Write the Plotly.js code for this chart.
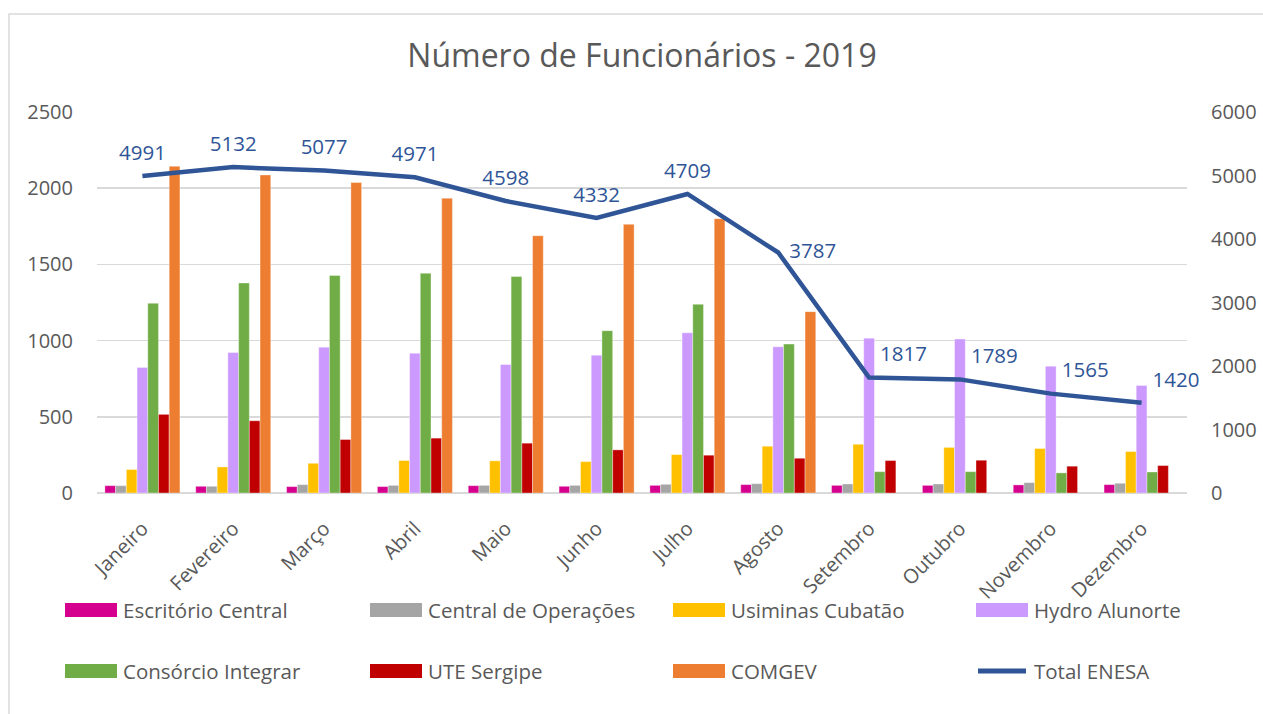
<!DOCTYPE html>
<html><head><meta charset="utf-8">
<script src="https://cdn.plot.ly/plotly-3.0.1.min.js"></script>
<style>html,body{margin:0;padding:0;background:#fff}#chart{width:1263px;height:714px}</style>
</head><body><div id="chart"></div>
<script>
// ---- data ----
const months = ['Janeiro','Fevereiro','Março','Abril','Maio','Junho','Julho','Agosto','Setembro','Outubro','Novembro','Dezembro'];
const escritorioCentral = [48,44,42,42,48,44,50,55,50,50,53,55];
const centralOperacoes  = [48,44,55,50,50,50,57,61,59,59,68,64];
const usiminasCubatao   = [154,171,195,213,211,206,252,307,320,299,292,272];
const hydroAlunorte     = [823,922,957,917,843,904,1051,959,1016,1010,832,705];
const consorcioIntegrar = [1245,1378,1427,1442,1420,1065,1238,977,140,140,132,138];
const uteSergipe        = [516,474,351,360,327,283,248,228,213,215,176,180];
const comgev            = [2144,2087,2037,1934,1688,1763,1800,1190,null,null,null,null];
const totalEnesa        = [4991,5132,5077,4971,4598,4332,4709,3787,1817,1789,1565,1420];
const barNames  = ['Escritório Central','Central de Operações','Usiminas Cubatão','Hydro Alunorte','Consórcio Integrar','UTE Sergipe','COMGEV'];
const lineName  = 'Total ENESA';
const leftTicks  = [0,500,1000,1500,2000,2500];
const rightTicks = [0,1000,2000,3000,4000,5000,6000];

// ---- styles ----
const barColors = ['#D6008F','#A5A5A5','#FFC000','#CC99FF','#70AD47','#C00000','#ED7D31'];
const lineColor = '#2F5597';
const FONT = 'Open Sans, sans-serif';
const GREY = '#595959';
const barSeries = [escritorioCentral,centralOperacoes,usiminasCubatao,hydroAlunorte,consorcioIntegrar,uteSergipe,comgev];

const W = 1263, H = 714;
const M = {l:97, r:76, t:112, b:221};
const PW = W - M.l - M.r, PH = H - M.t - M.b;
const px2x = p => (p - M.l) / PW;
const px2y = p => (H - M.b - p) / PH;

const traces = barSeries.map((vals, i) => ({
  type:'bar', name: barNames[i], x: months, y: vals,
  marker:{color: barColors[i], line:{color:'rgba(255,255,255,0.6)', width:0.6}},
  showlegend:false, hoverinfo:'x+y+name'
}));

const labelPos = months.map((m,i) => i === 7 ? 'middle right' : (i > 7 ? 'top right' : 'top center'));
traces.push({
  type:'scatter', mode:'lines+markers+text', name: lineName, x: months, y: totalEnesa,
  yaxis:'y2', line:{color: lineColor, width:4.5},
  marker:{size:16, color:'rgba(0,0,0,0)'},
  text: totalEnesa.map(String), textposition: labelPos,
  textfont:{family: FONT, size:20.5, color: lineColor},
  showlegend:false, cliponaxis:false
});

// ---- manual legend ----
const legendItems = barNames.map((n,i)=>({name:n, color:barColors[i], kind:'bar'}));
legendItems.push({name: lineName, color: lineColor, kind:'line'});
const colX = [65, 370, 673, 976];
const rowY = [610, 671];
const shapes = [];
const annotations = [];
legendItems.forEach((it, k) => {
  const cx = colX[k % 4], cy = rowY[Math.floor(k / 4)];
  if (it.kind === 'bar') {
    shapes.push({type:'rect', xref:'paper', yref:'paper', x0:px2x(cx), x1:px2x(cx+52), y0:px2y(cy+7), y1:px2y(cy-7),
      fillcolor: it.color, line:{width:0}});
  } else {
    shapes.push({type:'line', xref:'paper', yref:'paper', x0:px2x(cx+2), x1:px2x(cx+50), y0:px2y(cy), y1:px2y(cy),
      line:{color: it.color, width:5}});
  }
  annotations.push({xref:'paper', yref:'paper', x:px2x(cx+56), y:px2y(cy), xanchor:'left', yanchor:'middle',
    text: it.name, showarrow:false, font:{family:FONT, size:20.5, color:GREY}});
});
// chart border
shapes.push({type:'rect', xref:'paper', yref:'paper', x0:px2x(9), x1:px2x(1275), y0:px2y(725), y1:px2y(14),
  line:{color:'#D9D9D9', width:1.5}, fillcolor:'rgba(0,0,0,0)', layer:'below'});

const layout = {
  width:W, height:H, margin:M,
  paper_bgcolor:'#ffffff', plot_bgcolor:'#ffffff',
  font:{family:FONT, color:GREY, size:20},
  title:{text:'Número de Funcionários - 2019', font:{family:FONT, size:32, color:GREY},
    x:0.5, xref:'paper', y:1-56/H, yref:'container', yanchor:'middle'},
  barmode:'group', bargap:0.174, bargroupgap:0,
  showlegend:false,
  xaxis:{type:'category', range:[-0.5, 11.5], autorange:false, tickangle:-45, tickfont:{family:FONT, size:20, color:GREY},
    showgrid:false, zeroline:false, showline:false, ticks:'outside', ticklen:15, tickcolor:'rgba(0,0,0,0)',
    fixedrange:true},
  yaxis:{range:[0,2500], tickvals:leftTicks, ticktext:leftTicks.map(String), showgrid:true, gridcolor:'#D9D9D9', gridwidth:1.5,
    zeroline:true, zerolinecolor:'#D9D9D9', zerolinewidth:1.5, showline:false,
    ticks:'outside', ticklen:19, tickcolor:'rgba(0,0,0,0)', tickfont:{family:FONT, size:20, color:GREY}},
  yaxis2:{range:[0,6000], overlaying:'y', side:'right', tickvals:rightTicks, ticktext:rightTicks.map(String),
    showgrid:false, zeroline:false, showline:false,
    ticks:'outside', ticklen:19, tickcolor:'rgba(0,0,0,0)', tickfont:{family:FONT, size:20, color:GREY}},
  shapes: shapes,
  annotations: annotations
};

Plotly.newPlot('chart', traces, layout, {displayModeBar:false, staticPlot:true});
</script>
</body></html>
